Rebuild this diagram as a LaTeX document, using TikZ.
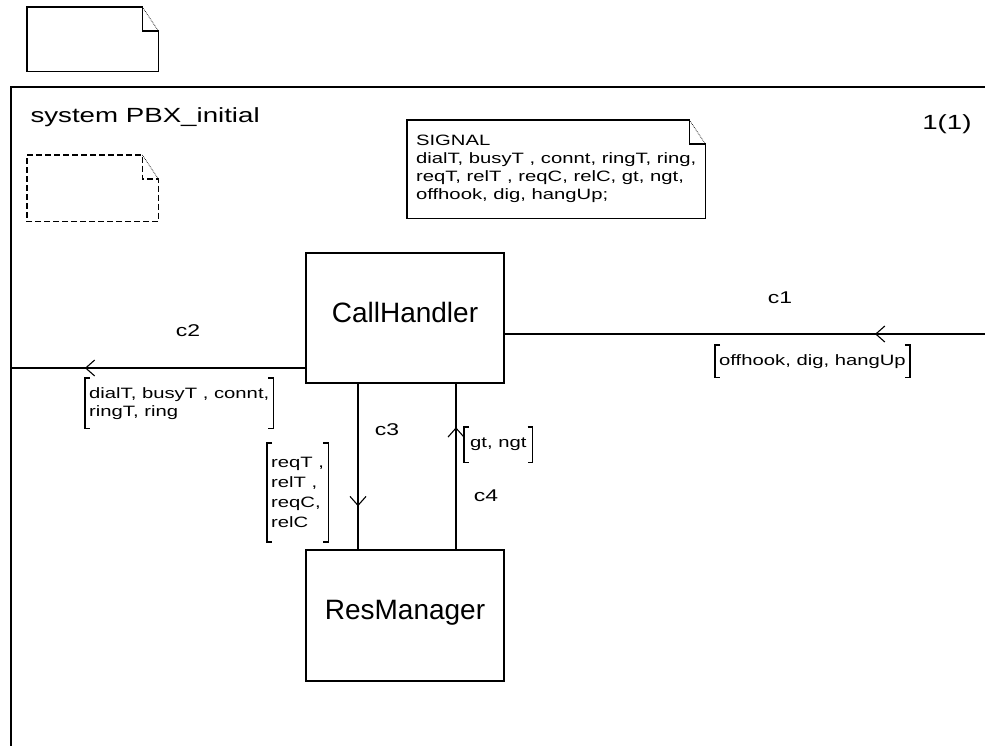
\documentclass[tikz,border=0pt]{standalone}
\usepackage{fontspec}
\setmainfont{Liberation Sans}
\newfontfamily\widefont{Liberation Sans}[FakeStretch=1.35]
\usetikzlibrary{positioning}
\usetikzlibrary{arrows.meta,decorations.markings}

\newcommand{\blockfont}{\fontsize{28}{32}\selectfont}
\newcommand{\titlefont}{\widefont\fontsize{20.5}{24}\selectfont}
\newcommand{\labelfont}{\widefont\fontsize{17}{20}\selectfont}
\newcommand{\listfont}{\widefont\fontsize{15}{18}\selectfont}

% note shape with folded corner, drawn round an empty or text node
\newcommand{\docshape}[2][]{%
  \draw[line width=1.4pt,#1] (#2.north west) -- ([xshift=-16pt]#2.north east) |- ([yshift=-24pt]#2.north east) -- (#2.south east) -- (#2.south west) -- cycle;
  \draw[line width=0.7pt, densely dotted] ([xshift=-16pt]#2.north east) -- ([yshift=-24pt]#2.north east);
}
% square brackets round a signal list
\newcommand{\sigbrackets}[1]{%
  \draw[line width=1.3pt] ([xshift=5pt]#1.north west) -- (#1.north west) -- (#1.south west) -- ([xshift=5pt]#1.south west);
  \draw[line width=1.3pt] ([xshift=-5pt]#1.north east) -- (#1.north east) -- (#1.south east) -- ([xshift=-5pt]#1.south east);
}

\tikzset{
  block/.style={draw, line width=1.4pt, minimum width=198pt, minimum height=130pt, text depth=12pt, font=\blockfont},
  chan/.style={line width=1.4pt},
  sigflow/.style={postaction={decorate}, decoration={markings,
      mark=at position #1 with {\arrow{Straight Barb[length=9pt,width=16pt,line width=1.1pt]}}}},
  chlabel/.style={font=\labelfont},
  siglist/.style={align=left, font=\listfont, inner xsep=4pt, inner ysep=9pt, anchor=north west},
}

\begin{document}
\begin{tikzpicture}[x=1pt, y=-1pt]
    \useasboundingbox (0,0) rectangle (985,745);

    % Package reference
    \node[minimum width=131pt, minimum height=64pt, inner sep=0pt, anchor=north west] (pkg) at (27,7) {};
    \docshape{pkg}

    % System frame
    \draw[line width=1.4pt] (11,760) -- (11,87) -- (1000,87);
    \node[anchor=base west, font=\titlefont] (sysname) at (27,122) {system PBX\_initial};
    \node[anchor=base east, font=\titlefont] (page) at (975,129) {1(1)};

    % Text symbols
    \node[minimum width=131pt, minimum height=66pt, inner sep=0pt, anchor=north west] (textref) at (27,155) {};
    \docshape[dash pattern=on 6pt off 3pt]{textref}
    \node[anchor=north west, minimum width=298pt, minimum height=98pt, align=left, font=\listfont, inner xsep=2pt, inner ysep=4pt] (sigdef) at (407,120)
        {SIGNAL\\dialT, busyT , connt, ringT, ring,\\reqT, relT , reqC, relC, gt, ngt,\\offhook, dig, hangUp;};
    \docshape{sigdef}

    % Blocks
    \node[block] (ch) at (405,318) {CallHandler};
    \node[block, minimum height=131pt] (rm) at (405,615.5) {ResManager};

    % Channels
    \coordinate (env1) at (990,334);
    \coordinate (env2) at (11,368);
    \coordinate (x3) at (358,0);
    \coordinate (x4) at (456,0);
    \draw[chan, sigflow=0.237] (env1) -- (ch.east |- env1);
    \draw[chan, sigflow=0.749] (ch.west |- env2) -- (env2);
    \draw[chan, sigflow=0.74] (ch.south -| x3) -- (rm.north -| x3);
    \draw[chan, sigflow=0.737] (rm.north -| x4) -- (ch.south -| x4);

    \node[chlabel] (c1) at (780,298) {c1};
    \node[chlabel] (c2) at (188,331) {c2};
    \node[chlabel] (c3) at (387,430) {c3};
    \node[chlabel] (c4) at (486,496) {c4};

    % Signal lists
    \node[siglist] (list1) at (715,345) {offhook, dig, hangUp};
    \sigbrackets{list1}
    \node[siglist] (list2) at (85,378) {dialT, busyT , connt,\\ringT, ring};
    \sigbrackets{list2}
    \node[siglist, inner ysep=14pt, font={\widefont\fontsize{15}{20}\selectfont}] (list3) at (267,443) {reqT ,\\relT ,\\reqC,\\relC};
    \sigbrackets{list3}
    \node[siglist, inner xsep=6pt, inner ysep=11pt] (list4) at (464,427) {gt, ngt};
    \sigbrackets{list4}
\end{tikzpicture}
\end{document}
